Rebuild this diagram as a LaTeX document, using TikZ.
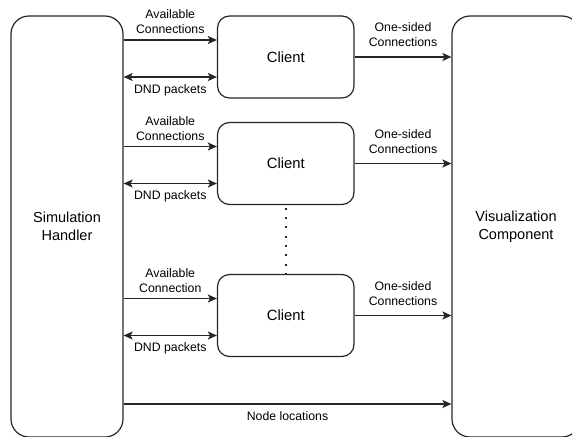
\documentclass[tikz,border=0pt]{standalone}
\usepackage{fontspec}
\setmainfont{Liberation Sans}
\usetikzlibrary{arrows.meta}
\begin{document}
\begin{tikzpicture}[x=1pt,y=-1pt,line width=1.2pt,
  bigbox/.style={draw=black!85, rounded corners=18pt, align=center,
    font=\fontsize{14.5}{18.5}\selectfont},
  clientbox/.style={draw=black!85, rounded corners=12pt, minimum width=136.5pt,
    minimum height=82pt, font=\fontsize{14.8}{18}\selectfont},
  lbl/.style={font=\fontsize{12.3}{14.8}\selectfont, align=center, inner sep=1.5pt},
  tip/.tip={Stealth[length=9pt,width=8pt,inset=2pt]},
  flow/.style={draw=black!85, -tip},
  twoway/.style={draw=black!85, tip-tip},
  dotline/.style={draw=black!85, line width=2pt, dash pattern=on 2pt off 7.33pt, dash phase=6.63pt}
]
\useasboundingbox (0,0) rectangle (572,436);

% side components
\node[bigbox, minimum width=112pt, minimum height=421pt] (sim) at (67,226.5) {Simulation\\Handler};
\node[bigbox, minimum width=128pt, minimum height=421pt] (viz) at (516,226.5) {Visualization\\Component};

% clients
\node[clientbox] (c1) at (285.75,57) {Client};
\node[clientbox] (c2) at (285.75,163.5) {Client};
\node[clientbox] (c3) at (285.75,315.5) {Client};

% connection points on the client boxes
\foreach \c in {c1,c2,c3}{
  \coordinate (\c-in) at ([yshift=17pt]\c.west);
  \coordinate (\c-dnd) at ([yshift=-20pt]\c.west);
}

% simulation handler -> clients
\draw[flow] (sim.east |- c1-in) -- node[lbl, above=4pt] {Available\\Connections} (c1-in);
\draw[twoway] (sim.east |- c1-dnd) -- node[lbl, below=5pt] {DND packets} (c1-dnd);
\draw[flow] (sim.east |- c2-in) -- node[lbl, above=4pt] {Available\\Connections} (c2-in);
\draw[twoway] (sim.east |- c2-dnd) -- node[lbl, below=5pt] {DND packets} (c2-dnd);
\draw[flow] (sim.east |- c3-in) -- node[lbl, above=4pt] {Available\\Connection} (c3-in);
\draw[twoway] (sim.east |- c3-dnd) -- node[lbl, below=5pt] {DND packets} (c3-dnd);

% clients -> visualization
\draw[flow] (c1.east) -- node[lbl, above=8pt] {One-sided\\Connections} (viz.west |- c1.east);
\draw[flow] (c2.east) -- node[lbl, above=8pt] {One-sided\\Connections} (viz.west |- c2.east);
\draw[flow] (c3.east) -- node[lbl, above=8pt] {One-sided\\Connections} (viz.west |- c3.east);

% further clients
\draw[dotline] (c2.south) -- (c3.north);

% node locations
\coordinate (nl) at (290,404);
\draw[flow] (sim.east |- nl) -- node[lbl, below=5pt] {Node locations} (viz.west |- nl);
\end{tikzpicture}
\end{document}
